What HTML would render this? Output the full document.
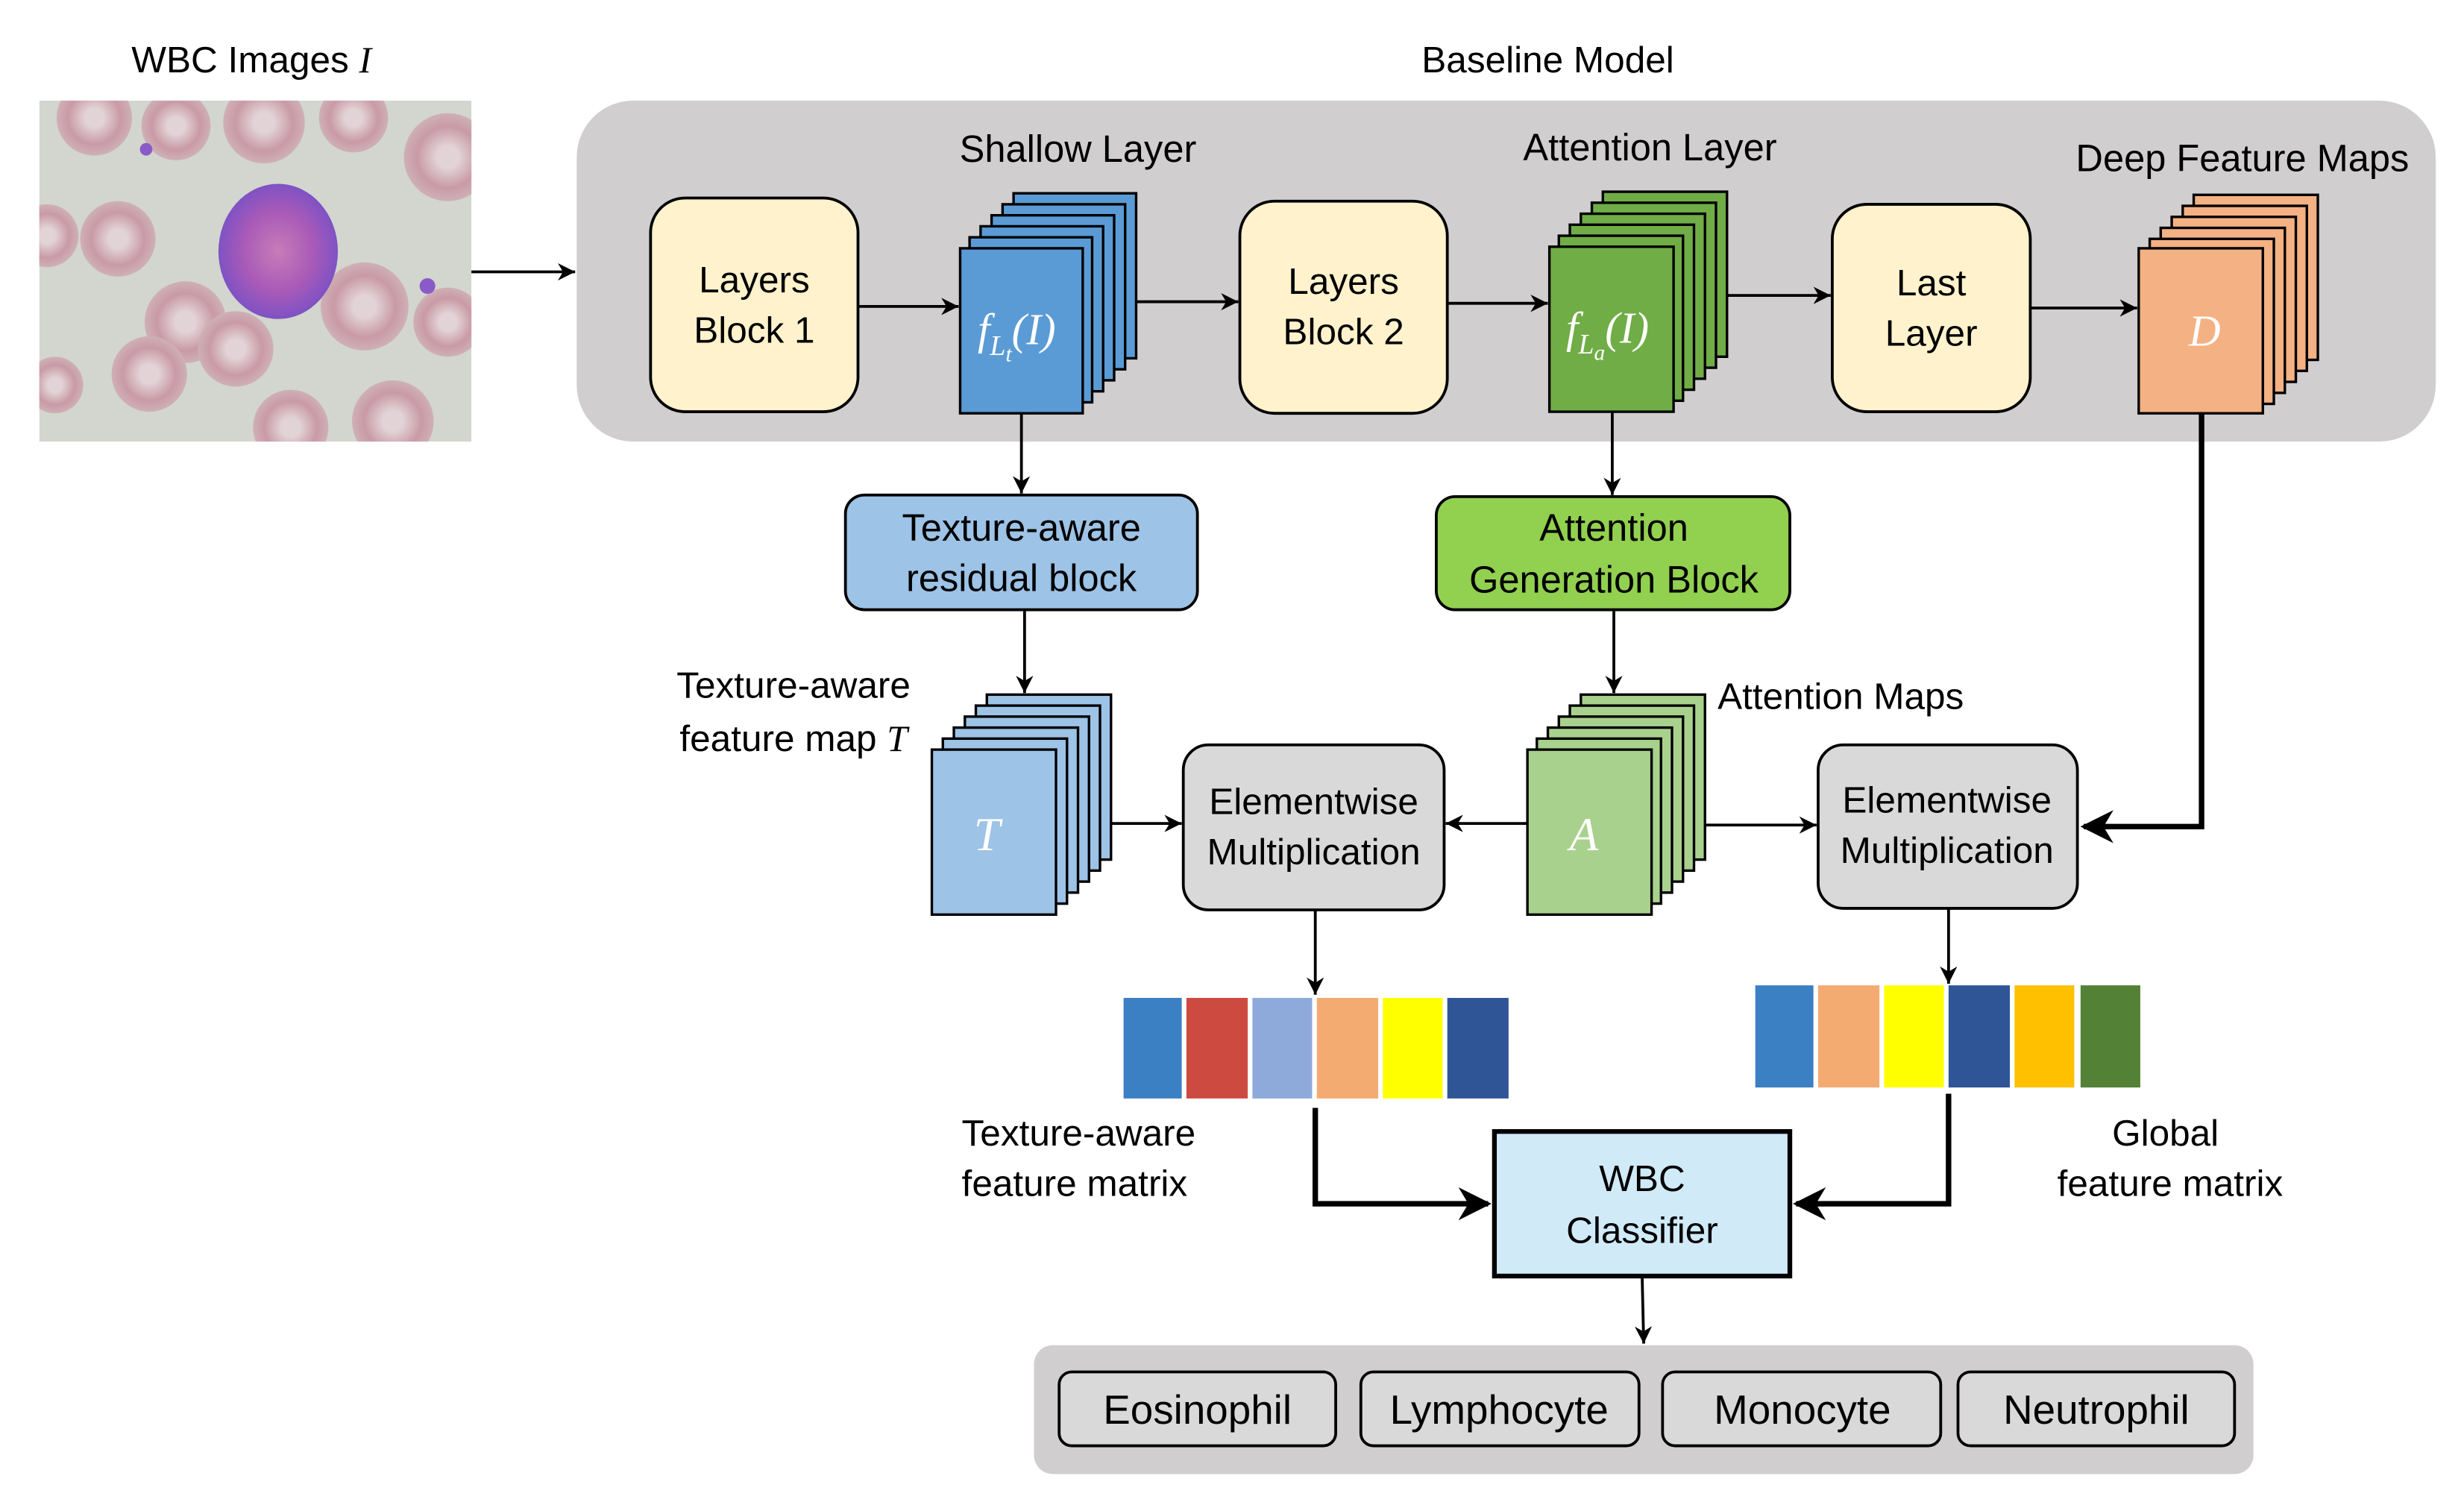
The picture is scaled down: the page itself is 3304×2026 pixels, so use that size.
<!DOCTYPE html>
<html><head><meta charset="utf-8"><style>
html,body{margin:0;padding:0;background:#fff;}
svg{display:block;}
text{font-family:"Liberation Sans",sans-serif;fill:#000;}
.t{font-size:23.5px;text-anchor:middle;}
.m{font-family:"Liberation Serif",serif;font-style:italic;fill:#fff;text-anchor:middle;}
</style></head><body>
<svg width="3304" height="2026" viewBox="0 0 1568 961.5" xmlns="http://www.w3.org/2000/svg">
<defs>
<marker id="a" viewBox="0 0 10 10" refX="10" refY="5" markerWidth="11" markerHeight="11" markerUnits="userSpaceOnUse" orient="auto"><path d="M0,0 L10,5 L0,10 L3,5 z" fill="#000"/></marker>
<marker id="b" viewBox="0 0 10 10" refX="9" refY="5" markerWidth="6" markerHeight="6" orient="auto"><path d="M0,0 L10,5 L0,10 L3,5 z" fill="#000"/></marker>
<radialGradient id="rbc"><stop offset="0.25" stop-color="#e2d3d6"/><stop offset="0.7" stop-color="#c99aa6"/><stop offset="1" stop-color="#cfb0b7"/></radialGradient>
<radialGradient id="wbc"><stop offset="0" stop-color="#c97bb8"/><stop offset="0.6" stop-color="#a85ab8"/><stop offset="1" stop-color="#7f52c4"/></radialGradient>
<clipPath id="ic"><rect x="25" y="64" width="275" height="217"/></clipPath>
</defs>

<text class="t" x="160" y="46">WBC Images <tspan font-family="Liberation Serif" font-style="italic">I</tspan></text>
<text class="t" x="985" y="46">Baseline Model</text>

<g clip-path="url(#ic)">
<rect x="25" y="64" width="275" height="217" fill="#d2d6ce"/>
<circle cx="60" cy="75" r="24" fill="url(#rbc)"/>
<circle cx="112" cy="80" r="22" fill="url(#rbc)"/>
<circle cx="168" cy="78" r="26" fill="url(#rbc)"/>
<circle cx="225" cy="75" r="22" fill="url(#rbc)"/>
<circle cx="285" cy="100" r="28" fill="url(#rbc)"/>
<circle cx="30" cy="150" r="20" fill="url(#rbc)"/>
<circle cx="75" cy="152" r="24" fill="url(#rbc)"/>
<circle cx="118" cy="205" r="26" fill="url(#rbc)"/>
<circle cx="95" cy="238" r="24" fill="url(#rbc)"/>
<circle cx="150" cy="222" r="24" fill="url(#rbc)"/>
<circle cx="232" cy="195" r="28" fill="url(#rbc)"/>
<circle cx="285" cy="205" r="22" fill="url(#rbc)"/>
<circle cx="185" cy="272" r="24" fill="url(#rbc)"/>
<circle cx="250" cy="268" r="26" fill="url(#rbc)"/>
<circle cx="35" cy="245" r="18" fill="url(#rbc)"/>
<ellipse cx="177" cy="160" rx="38" ry="43" fill="url(#wbc)"/>
<circle cx="93" cy="95" r="4" fill="#8a5bc8"/>
<circle cx="272" cy="182" r="5" fill="#8a5bc8"/>
</g>

<rect x="367" y="64" width="1183" height="217" rx="36" fill="#d0cece"/>
<line x1="300" y1="173" x2="366" y2="173" stroke="#000" stroke-width="1.8" marker-end="url(#a)"/>

<text class="t" x="686" y="103" style="font-size:24px">Shallow Layer</text>
<text class="t" x="1050" y="102" style="font-size:24px">Attention Layer</text>
<text class="t" x="1427" y="109" style="font-size:24px">Deep Feature Maps</text>

<rect x="414" y="126" width="132" height="136" rx="22" fill="#fff2cc" stroke="#000" stroke-width="1.8"/>
<text class="t" x="480" y="186">Layers</text><text class="t" x="480" y="218">Block 1</text>
<rect x="789" y="128" width="132" height="135" rx="22" fill="#fff2cc" stroke="#000" stroke-width="1.8"/>
<text class="t" x="855" y="187">Layers</text><text class="t" x="855" y="219">Block 2</text>
<rect x="1166" y="130" width="126" height="132" rx="22" fill="#fff2cc" stroke="#000" stroke-width="1.8"/>
<text class="t" x="1229" y="188">Last</text><text class="t" x="1229" y="220">Layer</text>

<g fill="#5b9bd5" stroke="#000" stroke-width="1.6">
<rect x="645" y="123" width="78" height="105"/><rect x="638" y="130" width="78" height="105"/><rect x="631" y="137" width="78" height="105"/><rect x="624" y="144" width="78" height="105"/><rect x="617" y="151" width="78" height="105"/><rect x="611" y="158" width="78" height="105"/>
</g>
<text class="m" x="647" y="219" font-size="28">f<tspan font-size="18" dy="7">L</tspan><tspan font-size="14" dy="4">t</tspan><tspan dy="-11">(I)</tspan></text>

<g fill="#70ad47" stroke="#000" stroke-width="1.6">
<rect x="1020" y="122" width="79" height="105"/><rect x="1013" y="129" width="79" height="105"/><rect x="1006" y="136" width="79" height="105"/><rect x="999" y="143" width="79" height="105"/><rect x="992" y="150" width="79" height="105"/><rect x="986" y="157" width="79" height="105"/>
</g>
<text class="m" x="1023" y="218" font-size="28">f<tspan font-size="18" dy="7">L</tspan><tspan font-size="14" dy="4">a</tspan><tspan dy="-11">(I)</tspan></text>

<g fill="#f4b183" stroke="#000" stroke-width="1.6">
<rect x="1396" y="124" width="79" height="105"/><rect x="1389" y="131" width="79" height="105"/><rect x="1382" y="138" width="79" height="105"/><rect x="1375" y="145" width="79" height="105"/><rect x="1368" y="152" width="79" height="105"/><rect x="1361" y="158" width="79" height="105"/>
</g>
<text class="m" x="1403" y="220" font-size="28">D</text>

<g stroke="#000" stroke-width="1.8" fill="none">
<line x1="546" y1="195" x2="610" y2="195" marker-end="url(#a)"/>
<line x1="723" y1="192" x2="788" y2="192" marker-end="url(#a)"/>
<line x1="921" y1="193" x2="985" y2="193" marker-end="url(#a)"/>
<line x1="1099" y1="188" x2="1165" y2="188" marker-end="url(#a)"/>
<line x1="1292" y1="196" x2="1360" y2="196" marker-end="url(#a)"/>
<line x1="650" y1="263" x2="650" y2="314" marker-end="url(#a)"/>
<line x1="1026" y1="262" x2="1026" y2="315" marker-end="url(#a)"/>
<line x1="652" y1="388" x2="652" y2="441" marker-end="url(#a)"/>
<line x1="1027" y1="388" x2="1027" y2="441" marker-end="url(#a)"/>
<line x1="707" y1="524" x2="752" y2="524" marker-end="url(#a)"/>
<line x1="972" y1="524" x2="920" y2="524" marker-end="url(#a)"/>
<line x1="1085" y1="525" x2="1156" y2="525" marker-end="url(#a)"/>
<line x1="837" y1="579" x2="837" y2="633" marker-end="url(#a)"/>
<line x1="1240" y1="578" x2="1240" y2="626" marker-end="url(#a)"/>
<line x1="1045" y1="812" x2="1046" y2="855" marker-end="url(#a)"/>
</g>
<g stroke="#000" stroke-width="3.5" fill="none">
<polyline points="1401,263 1401,526 1326,526" marker-end="url(#b)"/>
<polyline points="837,705 837,766 947,766" marker-end="url(#b)"/>
<polyline points="1240,696 1240,766 1143,766" marker-end="url(#b)"/>
</g>

<rect x="538" y="315" width="224" height="73" rx="12" fill="#9dc3e6" stroke="#000" stroke-width="1.8"/>
<text class="t" x="650" y="344" style="font-size:24px">Texture-aware</text><text class="t" x="650" y="376" style="font-size:24px">residual block</text>
<rect x="914" y="316" width="225" height="72" rx="12" fill="#92d050" stroke="#000" stroke-width="1.8"/>
<text class="t" x="1027" y="344" style="font-size:24px">Attention</text><text class="t" x="1027" y="377" style="font-size:24px">Generation Block</text>

<g fill="#9dc3e6" stroke="#000" stroke-width="1.6">
<rect x="628" y="442" width="79" height="105"/><rect x="621" y="449" width="79" height="105"/><rect x="614" y="456" width="79" height="105"/><rect x="607" y="463" width="79" height="105"/><rect x="600" y="470" width="79" height="105"/><rect x="593" y="477" width="79" height="105"/>
</g>
<text class="m" x="628" y="541" font-size="30">T</text>
<text class="t" x="505" y="444">Texture-aware</text>
<text class="t" x="505" y="478">feature map <tspan font-family="Liberation Serif" font-style="italic">T</tspan></text>

<g fill="#a9d18e" stroke="#000" stroke-width="1.6">
<rect x="1006" y="442" width="79" height="105"/><rect x="999" y="449" width="79" height="105"/><rect x="992" y="456" width="79" height="105"/><rect x="985" y="463" width="79" height="105"/><rect x="978" y="470" width="79" height="105"/><rect x="972" y="477" width="79" height="105"/>
</g>
<text class="m" x="1008" y="541" font-size="30">A</text>
<text x="1093" y="451" style="font-size:23.5px">Attention Maps</text>

<rect x="753" y="474" width="166" height="105" rx="16" fill="#d9d9d9" stroke="#000" stroke-width="1.8"/>
<text class="t" x="836" y="518">Elementwise</text><text class="t" x="836" y="550">Multiplication</text>
<rect x="1157" y="474" width="165" height="104" rx="16" fill="#d9d9d9" stroke="#000" stroke-width="1.8"/>
<text class="t" x="1239" y="517">Elementwise</text><text class="t" x="1239" y="549">Multiplication</text>

<g>
<rect x="715" y="635" width="37" height="64" fill="#3b80c3"/>
<rect x="755" y="635" width="39" height="64" fill="#cc4a40"/>
<rect x="797" y="635" width="38" height="64" fill="#8eaadb"/>
<rect x="838" y="635" width="39" height="64" fill="#f3ab72"/>
<rect x="880" y="635" width="38" height="64" fill="#ffff00"/>
<rect x="921" y="635" width="39" height="64" fill="#2f5597"/>
<rect x="1117" y="627" width="37" height="65" fill="#3b80c3"/>
<rect x="1157" y="627" width="39" height="65" fill="#f3ab72"/>
<rect x="1199" y="627" width="38" height="65" fill="#ffff00"/>
<rect x="1240" y="627" width="39" height="65" fill="#2f5597"/>
<rect x="1282" y="627" width="38" height="65" fill="#ffc000"/>
<rect x="1324" y="627" width="38" height="65" fill="#538135"/>
</g>
<text x="612" y="729" style="font-size:23.5px">Texture-aware</text>
<text x="612" y="761" style="font-size:23.5px">feature matrix</text>
<text class="t" x="1378" y="729">Global</text>
<text class="t" x="1381" y="761">feature matrix</text>

<rect x="951" y="720" width="188" height="92" fill="#d0eaf8" stroke="#000" stroke-width="3"/>
<text class="t" x="1045" y="758">WBC</text><text class="t" x="1045" y="791">Classifier</text>

<rect x="658" y="856" width="776" height="82" rx="12" fill="#d0cece"/>
<g fill="#d9d9d9" stroke="#000" stroke-width="1.8">
<rect x="674" y="873" width="176" height="47" rx="8"/>
<rect x="866" y="873" width="177" height="47" rx="8"/>
<rect x="1058" y="873" width="177" height="47" rx="8"/>
<rect x="1246" y="873" width="176" height="47" rx="8"/>
</g>
<text class="t" x="762" y="906" style="font-size:26px">Eosinophil</text>
<text class="t" x="954" y="906" style="font-size:26px">Lymphocyte</text>
<text class="t" x="1147" y="906" style="font-size:26px">Monocyte</text>
<text class="t" x="1334" y="906" style="font-size:26px">Neutrophil</text>
</svg>
</body></html>
